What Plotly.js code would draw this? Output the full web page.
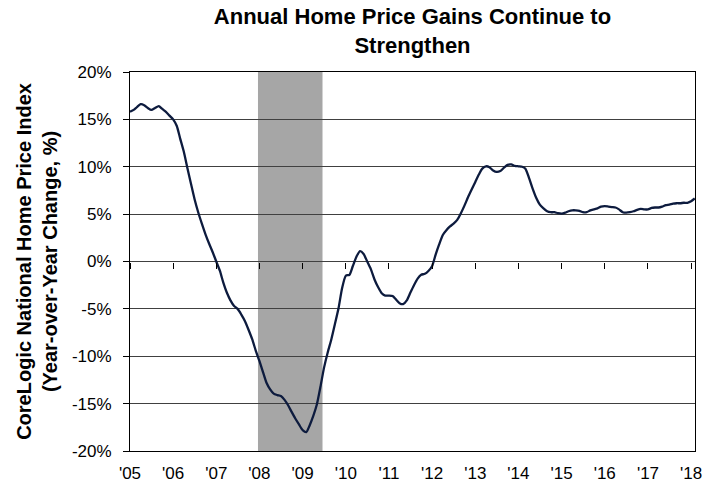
<!DOCTYPE html>
<html>
<head>
<meta charset="utf-8">
<script src="https://cdn.plot.ly/plotly-3.0.1.min.js"></script>
<style>
  html, body { margin: 0; padding: 0; background: #ffffff; }
  #chart { width: 723px; height: 485px; }
</style>
</head>
<body>
<div id="chart"></div>
<script>
// ---- Data ----
const startYear = 2005;             // first observation: Jan 2005, monthly
const yoy2005 = [15.8, 16.0, 16.3, 16.6, 16.5, 16.2, 16.0, 16.2, 16.4, 16.1, 15.8, 15.4];
const yoy2006 = [15.0, 14.3, 13.0, 11.6, 9.9, 8.2, 6.6, 5.2, 4.0, 2.9, 1.9, 1.0];
const yoy2007 = [0.0, -1.0, -2.2, -3.3, -4.1, -4.7, -5.0, -5.6, -6.3, -7.2, -8.2, -9.4];
const yoy2008 = [-10.5, -11.7, -12.8, -13.5, -13.95, -14.1, -14.2, -14.6, -15.2, -15.9, -16.6, -17.2];
const yoy2009 = [-17.8, -18.0, -17.3, -16.3, -15.1, -13.2, -11.2, -9.6, -8.2, -6.6, -4.9, -2.8];
const yoy2010 = [-1.5, -1.4, -0.5, 0.5, 1.1, 0.8, 0.0, -0.8, -1.9, -2.7, -3.35, -3.6];
const yoy2011 = [-3.6, -3.65, -4.0, -4.4, -4.5, -4.1, -3.3, -2.5, -1.8, -1.4, -1.3, -1.0];
const yoy2012 = [-0.5, 0.75, 1.8, 2.8, 3.3, 3.7, 4.0, 4.4, 5.1, 5.9, 6.8, 7.6];
const yoy2013 = [8.4, 9.2, 9.8, 10.05, 9.95, 9.6, 9.45, 9.55, 9.9, 10.2, 10.25, 10.1];
const yoy2014 = [10.05, 10.0, 9.8, 8.8, 7.7, 6.7, 6.0, 5.6, 5.3, 5.2, 5.2, 5.1];
const yoy2015 = [5.05, 5.15, 5.3, 5.4, 5.4, 5.35, 5.2, 5.2, 5.4, 5.5, 5.6, 5.8];
const yoy2016 = [5.85, 5.8, 5.75, 5.7, 5.5, 5.2, 5.15, 5.2, 5.3, 5.45, 5.55, 5.5];
const yoy2017 = [5.5, 5.65, 5.7, 5.7, 5.8, 5.95, 6.0, 6.1, 6.15, 6.15, 6.2, 6.2];
const yoy2018 = [6.35, 6.65];

const yearTickVals = ['2005-01-01','2006-01-01','2007-01-01','2008-01-01','2009-01-01','2010-01-01','2011-01-01',
                      '2012-01-01','2013-01-01','2014-01-01','2015-01-01','2016-01-01','2017-01-01','2018-01-01'];
const yearTickText = ["'05","'06","'07","'08","'09","'10","'11","'12","'13","'14","'15","'16","'17","'18"];
const pctTickVals = [-20, -15, -10, -5, 0, 5, 10, 15, 20];
const pctTickText = ['-20%', '-15%', '-10%', '-5%', '0%', '5%', '10%', '15%', '20%'];
const recessionStart = '2007-12-20';
const recessionEnd = '2009-06-18';

// ---- Build series ----
const yoyValues = [].concat(yoy2005, yoy2006, yoy2007, yoy2008, yoy2009, yoy2010, yoy2011,
                            yoy2012, yoy2013, yoy2014, yoy2015, yoy2016, yoy2017, yoy2018);
const monthDates = yoyValues.map((v, i) => {
  const y = startYear + Math.floor(i / 12);
  const m = (i % 12) + 1;
  return y + '-' + String(m).padStart(2, '0') + '-01';
});

const FONT = 'Liberation Sans, Arial, Helvetica, sans-serif';

const traces = [
  {
    x: monthDates, y: yoyValues, type: 'scatter', mode: 'lines',
    line: { color: '#0d1b3e', width: 2.3, shape: 'spline', smoothing: 0.6 },
    hoverinfo: 'x+y', showlegend: false
  },
  {
    x: monthDates, y: yoyValues, type: 'scatter', mode: 'none',
    xaxis: 'x2', yaxis: 'y', hoverinfo: 'skip', showlegend: false
  }
];

const xRange = ['2005-01-01', '2018-02-03'];

const layout = {
  width: 723, height: 485,
  margin: { l: 130, r: 28, t: 72, b: 34 },
  paper_bgcolor: '#ffffff', plot_bgcolor: '#ffffff',
  font: { family: FONT, color: '#000000' },
  title: {
    text: 'Annual Home Price Gains Continue to<br>Strengthen',
    font: { family: FONT, size: 22, weight: 'bold', color: '#000000' },
    x: 0.5, xref: 'paper', xanchor: 'center',
    y: 0.95, yref: 'container', yanchor: 'top'
  },
  xaxis: {
    type: 'date', range: xRange,
    tickmode: 'array', tickvals: yearTickVals, ticktext: yearTickText,
    ticks: '', showgrid: false, zeroline: false,
    showline: true, mirror: true, linecolor: '#000000', linewidth: 1,
    tickfont: { family: FONT, size: 17, color: '#000000' },
    ticklabelstandoff: 7
  },
  xaxis2: {
    type: 'date', range: xRange, overlaying: 'x', anchor: 'free', position: 0.5,
    tickmode: 'array', tickvals: yearTickVals,
    ticks: 'outside', ticklen: 6, tickwidth: 1, tickcolor: '#000000',
    showticklabels: false, showgrid: false, showline: false, zeroline: false
  },
  yaxis: {
    range: [-20, 20], tickmode: 'array', tickvals: pctTickVals, ticktext: pctTickText,
    ticks: 'outside', ticklen: 6, tickwidth: 1, tickcolor: '#000000',
    showgrid: true, gridcolor: '#404040', gridwidth: 1, zeroline: false,
    showline: true, mirror: true, linecolor: '#000000', linewidth: 1,
    tickfont: { family: FONT, size: 17, color: '#000000' },
    ticklabelstandoff: 8,
    title: {
      text: 'CoreLogic National Home Price Index<br>(Year-over-Year Change, %)',
      font: { family: FONT, size: 20, weight: 'bold', color: '#000000' },
      standoff: 8
    }
  },
  shapes: [
    {
      type: 'rect', xref: 'x', yref: 'paper',
      x0: recessionStart, x1: recessionEnd, y0: 0, y1: 1,
      fillcolor: '#a6a6a6', line: { width: 0 }, layer: 'between'
    }
  ]
};

Plotly.newPlot('chart', traces, layout, { displayModeBar: false, staticPlot: true });
</script>
</body>
</html>
